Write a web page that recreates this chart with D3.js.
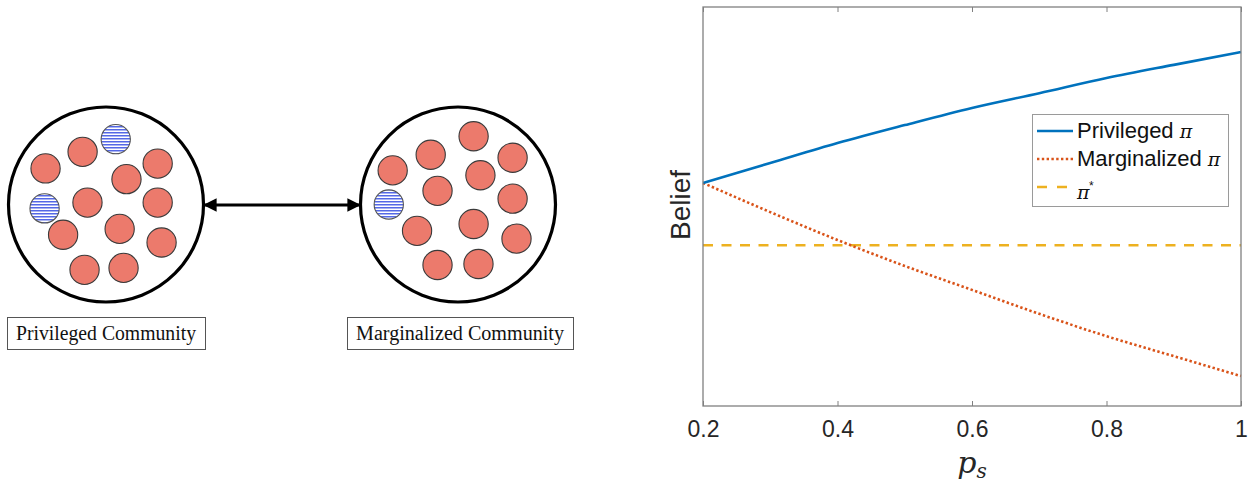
<!DOCTYPE html>
<html>
<head>
<meta charset="utf-8">
<script src="https://cdn.jsdelivr.net/npm/d3@7/dist/d3.min.js"></script>
<style>
  body { margin: 0; background: #fff; }
  svg { display: block; }
</style>
</head>
<body>
<div id="chart"></div>
<script>
// ---- data ----
const communities = ["Privileged Community", "Marginalized Community"];
// dot offsets inside each community, in units of the community radius; kind: "r" red / "s" striped
const privilegedDots = [
  [0.10, -0.67, "s"], [-0.24, -0.54, "r"], [-0.62, -0.37, "r"], [0.53, -0.42, "r"],
  [0.21, -0.26, "r"], [-0.63, 0.04, "s"], [-0.19, -0.02, "r"], [0.53, -0.02, "r"],
  [-0.44, 0.31, "r"], [0.14, 0.25, "r"], [0.57, 0.39, "r"], [-0.22, 0.67, "r"], [0.18, 0.65, "r"]
];
const marginalizedDots = [
  [0.16, -0.70, "r"], [-0.28, -0.51, "r"], [-0.67, -0.35, "r"], [0.56, -0.48, "r"],
  [0.23, -0.30, "r"], [-0.21, -0.14, "r"], [0.56, -0.06, "r"], [-0.71, 0.00, "s"],
  [-0.42, 0.27, "r"], [0.16, 0.20, "r"], [0.60, 0.35, "r"], [-0.21, 0.62, "r"], [0.21, 0.61, "r"]
];

const ps = [0.2, 0.3, 0.4, 0.5, 0.6, 0.7, 0.8, 0.9, 1.0];
const privilegedBelief   = [0.559, 0.609, 0.659, 0.704, 0.747, 0.784, 0.822, 0.855, 0.887];
const marginalizedBelief = [0.559, 0.486, 0.416, 0.351, 0.291, 0.231, 0.175, 0.125, 0.075];
const piStar = 0.403;
const xTicks = [0.2, 0.4, 0.6, 0.8, 1];
const legendLabels = ["Privileged ", "Marginalized ", ""];

// ---- canvas ----
const W = 1252, H = 484;
const svg = d3.select("#chart").append("svg")
  .attr("width", W).attr("height", H)
  .attr("viewBox", [0, 0, W, H]);

const defs = svg.append("defs");
const pat = defs.append("pattern")
  .attr("id", "stripes")
  .attr("patternUnits", "userSpaceOnUse")
  .attr("width", 6).attr("height", 3);
pat.append("rect").attr("width", 6).attr("height", 3).attr("fill", "#fff");
pat.append("rect").attr("width", 6).attr("height", 1.5).attr("fill", "#5468e6");

// ---- left diagram ----
const commCenters = [[106, 204.5], [458, 204.5]];
const commR = 97.5;
const dotR = 0.15;

[privilegedDots, marginalizedDots].forEach((dots, i) => {
  const [cx, cy] = commCenters[i];
  const sx = d3.scaleLinear().domain([-1, 1]).range([cx - commR, cx + commR]);
  const sy = d3.scaleLinear().domain([-1, 1]).range([cy - commR, cy + commR]);
  const g = svg.append("g");
  g.append("circle")
    .attr("cx", cx).attr("cy", cy).attr("r", commR)
    .attr("fill", "#fff").attr("stroke", "#000").attr("stroke-width", 3.2);
  g.selectAll("circle.dot")
    .data(dots)
    .join("circle")
    .attr("class", "dot")
    .attr("cx", d => sx(d[0]))
    .attr("cy", d => sy(d[1]))
    .attr("r", dotR * commR)
    .attr("fill", d => d[2] === "s" ? "url(#stripes)" : "#ec7a6c")
    .attr("stroke", d => d[2] === "s" ? "#555" : "#3a3a3a")
    .attr("stroke-width", 1.1);
});

// double arrow between communities
defs.append("marker")
  .attr("id", "ah")
  .attr("viewBox", "0 0 10 10")
  .attr("refX", 9).attr("refY", 5)
  .attr("markerWidth", 4.5).attr("markerHeight", 4.5)
  .attr("orient", "auto-start-reverse")
  .append("path").attr("d", "M0,0L10,5L0,10z").attr("fill", "#000");
svg.append("line")
  .attr("x1", commCenters[0][0] + commR + 1).attr("y1", 205)
  .attr("x2", commCenters[1][0] - commR - 1).attr("y2", 205)
  .attr("stroke", "#000").attr("stroke-width", 3)
  .attr("marker-start", "url(#ah)").attr("marker-end", "url(#ah)");

// community labels
const labelBoxes = [[7, 198], [347, 226]];
communities.forEach((name, i) => {
  const [bx, bw] = labelBoxes[i];
  svg.append("rect")
    .attr("x", bx + 0.5).attr("y", 317.5).attr("width", bw).attr("height", 32)
    .attr("fill", "#fff").attr("stroke", "#555").attr("stroke-width", 1);
  svg.append("text")
    .attr("x", bx + bw / 2).attr("y", 340)
    .attr("text-anchor", "middle")
    .attr("font-family", "Liberation Serif, serif")
    .attr("font-size", 20)
    .attr("textLength", bw - 18)
    .attr("lengthAdjust", "spacingAndGlyphs")
    .attr("fill", "#111")
    .text(name);
});

// ---- right plot ----
const x = d3.scaleLinear().domain([0.2, 1]).range([703, 1241]);
const y = d3.scaleLinear().domain([0, 1]).range([406, 7]);

const line = d3.line().x(d => x(d[0])).y(d => y(d[1])).curve(d3.curveMonotoneX);

svg.append("path")
  .attr("d", line([[0.2, piStar], [1, piStar]]))
  .attr("fill", "none").attr("stroke", "#EDB120")
  .attr("stroke-width", 2.6).attr("stroke-dasharray", "10,8.5");

svg.append("path")
  .attr("d", line(ps.map((p, i) => [p, marginalizedBelief[i]])))
  .attr("fill", "none").attr("stroke", "#D95319")
  .attr("stroke-width", 2.6).attr("stroke-dasharray", "2.4,2.4");

svg.append("path")
  .attr("d", line(ps.map((p, i) => [p, privilegedBelief[i]])))
  .attr("fill", "none").attr("stroke", "#0072BD")
  .attr("stroke-width", 2.6);

// axes box
const fmt = d3.format("~g");
svg.append("g")
  .attr("transform", `translate(0,${y(0)})`)
  .call(d3.axisBottom(x).tickValues(xTicks).tickSize(-5).tickPadding(15).tickFormat(fmt))
  .call(g => g.select(".domain").remove())
  .call(g => g.selectAll(".tick line").attr("stroke", "#808080"))
  .call(g => g.selectAll(".tick text")
    .attr("font-family", "Liberation Sans, Arial, sans-serif")
    .attr("font-size", 23).attr("fill", "#262626"));
svg.append("g")
  .attr("transform", `translate(0,${y(1)})`)
  .call(d3.axisTop(x).tickValues(xTicks).tickSize(-5).tickFormat(""))
  .call(g => g.select(".domain").remove())
  .call(g => g.selectAll(".tick line").attr("stroke", "#808080"));
svg.append("rect")
  .attr("x", x(0.2)).attr("y", y(1))
  .attr("width", x(1) - x(0.2)).attr("height", y(0) - y(1))
  .attr("fill", "none").attr("stroke", "#808080").attr("stroke-width", 1.3);

// axis labels
svg.append("text")
  .attr("transform", `translate(690,205) rotate(-90)`)
  .attr("text-anchor", "middle")
  .attr("font-family", "Liberation Sans, Arial, sans-serif")
  .attr("font-size", 28).attr("fill", "#262626")
  .text("Belief");

const xl = svg.append("text")
  .attr("x", x(0.6)).attr("y", 473)
  .attr("text-anchor", "middle")
  .attr("font-family", "DejaVu Serif, serif")
  .attr("font-style", "italic")
  .attr("font-size", 30).attr("fill", "#262626");
xl.append("tspan").text("p");
xl.append("tspan").attr("font-size", 20).attr("dy", 5).text("s");

// legend
const legend = svg.append("g");
legend.append("rect")
  .attr("x", 1032.5).attr("y", 114.5).attr("width", 196).attr("height", 92)
  .attr("fill", "#fff").attr("stroke", "#9a9a9a").attr("stroke-width", 1);
const legendStyles = [
  { color: "#0072BD", dash: null },
  { color: "#D95319", dash: "2.4,2.4" },
  { color: "#EDB120", dash: "10,10" }
];
const ly = d3.scalePoint().domain(d3.range(3)).range([131, 187]);
legendLabels.forEach((lab, i) => {
  legend.append("line")
    .attr("x1", 1037).attr("x2", 1073)
    .attr("y1", ly(i)).attr("y2", ly(i))
    .attr("stroke", legendStyles[i].color).attr("stroke-width", 2.6)
    .attr("stroke-dasharray", legendStyles[i].dash);
  if (i < 2) {
    const t = legend.append("text")
      .attr("x", 1077).attr("y", ly(i) + 7)
      .attr("font-family", "Liberation Sans, Arial, sans-serif")
      .attr("font-size", 22).attr("fill", "#111");
    t.append("tspan").text(lab);
    t.append("tspan").attr("font-family", "DejaVu Serif, serif").attr("font-style", "italic").attr("font-size", 19).text("π");
  } else {
    legend.append("text")
      .attr("x", 1077).attr("y", ly(i) + 12)
      .attr("font-family", "DejaVu Serif, serif").attr("font-style", "italic")
      .attr("font-size", 19).attr("fill", "#111")
      .text("π");
    legend.append("text")
      .attr("x", 1089).attr("y", ly(i) + 3)
      .attr("font-family", "Liberation Sans, Arial, sans-serif")
      .attr("font-size", 12).attr("fill", "#111")
      .text("*");
  }
});
</script>
</body>
</html>
